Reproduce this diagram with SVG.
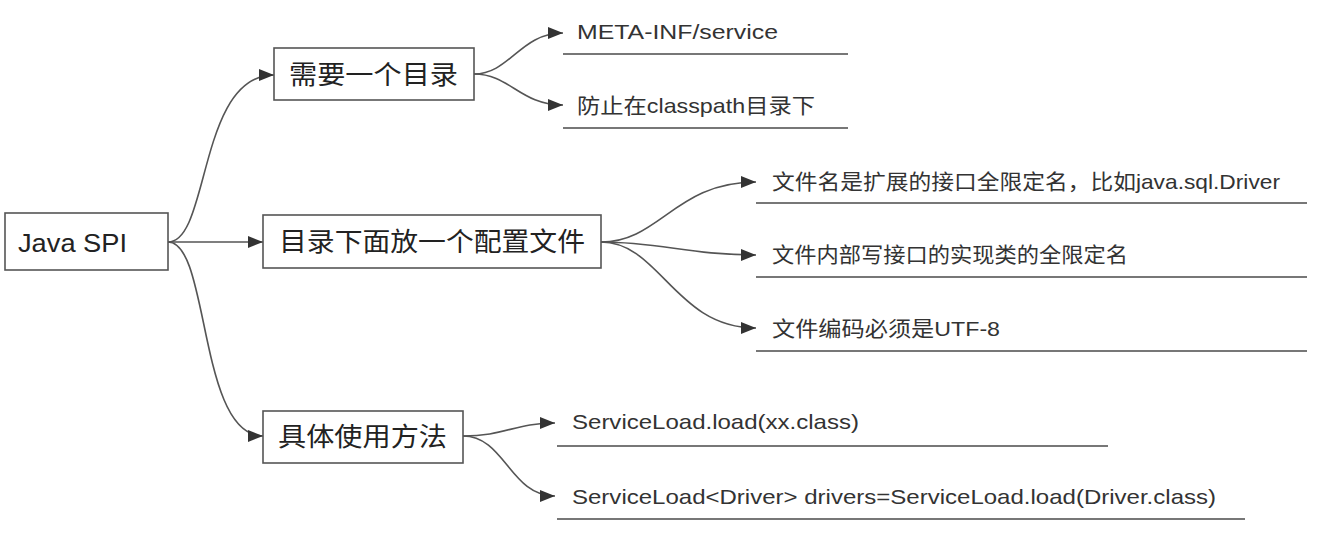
<svg xmlns="http://www.w3.org/2000/svg" width="1333" height="542" viewBox="0 0 1333 542">
<defs>
<marker id="arr" markerUnits="userSpaceOnUse" markerWidth="16" markerHeight="12" refX="15" refY="6" orient="auto">
<path d="M0,0 L15,6 L0,12 Z" fill="#333"/>
</marker>
<style>
.box{fill:#fff;stroke:#555;stroke-width:1.6}
.big{font-family:"Liberation Sans","Noto Sans CJK SC",sans-serif;font-size:26px;fill:#222}
.leaf{font-family:"Liberation Sans","Noto Sans CJK SC",sans-serif;font-size:21px;fill:#333}
.conn{fill:none;stroke:#555;stroke-width:1.6}
.ul{stroke:#777;stroke-width:2}
</style>
</defs>
<rect width="1333" height="542" fill="#fff"/>
<g id="connectors">
<path class="conn" d="M168,242 C210,242 198,75 274,75" marker-end="url(#arr)"/>
<path class="conn" d="M168,242 L263,242" marker-end="url(#arr)"/>
<path class="conn" d="M168,242 C210,242 198,436 263,436" marker-end="url(#arr)"/>
<path class="conn" d="M474,74 C510,74 520,33 563,33" marker-end="url(#arr)"/>
<path class="conn" d="M474,74 C510,74 520,105 563,105" marker-end="url(#arr)"/>
<path class="conn" d="M601,242 C660,242 675,182 756,182" marker-end="url(#arr)"/>
<path class="conn" d="M601,242 C660,242 690,255 756,255" marker-end="url(#arr)"/>
<path class="conn" d="M601,242 C660,242 675,328 756,328" marker-end="url(#arr)"/>
<path class="conn" d="M463,436 C505,436 515,423 555,423" marker-end="url(#arr)"/>
<path class="conn" d="M463,436 C505,436 510,496 555,496" marker-end="url(#arr)"/>
</g>
<g id="root">
<rect class="box" x="5" y="213" width="163" height="57"/>
<text class="big" x="18" y="252" font-size="28" textLength="109" lengthAdjust="spacingAndGlyphs">Java SPI</text>
</g>
<g id="n1">
<rect class="box" x="274" y="48" width="200" height="52"/>
<text class="big" x="289" y="84" textLength="169" lengthAdjust="spacingAndGlyphs">需要一个目录</text>
</g>
<g id="n2">
<rect class="box" x="263" y="215" width="338" height="53"/>
<text class="big" x="279" y="251" textLength="306" lengthAdjust="spacingAndGlyphs">目录下面放一个配置文件</text>
</g>
<g id="n3">
<rect class="box" x="263" y="411" width="200" height="52"/>
<text class="big" x="278" y="446" textLength="169" lengthAdjust="spacingAndGlyphs">具体使用方法</text>
</g>
<g id="leaf1">
<text class="leaf" x="577" y="39" textLength="201" lengthAdjust="spacingAndGlyphs">META-INF/service</text>
<line class="ul" x1="563" y1="54" x2="848" y2="54"/>
</g>
<g id="leaf2">
<text class="leaf" x="577" y="113" textLength="238" lengthAdjust="spacingAndGlyphs">防止在classpath目录下</text>
<line class="ul" x1="563" y1="128" x2="848" y2="128"/>
</g>
<g id="leaf3">
<text class="leaf" x="772" y="189" textLength="508" lengthAdjust="spacingAndGlyphs">文件名是扩展的接口全限定名，比如java.sql.Driver</text>
<line class="ul" x1="756" y1="203" x2="1307" y2="203"/>
</g>
<g id="leaf4">
<text class="leaf" x="772" y="262" textLength="356" lengthAdjust="spacingAndGlyphs">文件内部写接口的实现类的全限定名</text>
<line class="ul" x1="756" y1="277" x2="1307" y2="277"/>
</g>
<g id="leaf5">
<text class="leaf" x="772" y="336" textLength="228" lengthAdjust="spacingAndGlyphs">文件编码必须是UTF-8</text>
<line class="ul" x1="756" y1="351" x2="1307" y2="351"/>
</g>
<g id="leaf6">
<text class="leaf" x="572" y="429" textLength="287" lengthAdjust="spacingAndGlyphs">ServiceLoad.load(xx.class)</text>
<line class="ul" x1="557" y1="446" x2="1108" y2="446"/>
</g>
<g id="leaf7">
<text class="leaf" x="572" y="504" textLength="644" lengthAdjust="spacingAndGlyphs">ServiceLoad&lt;Driver&gt; drivers=ServiceLoad.load(Driver.class)</text>
<line class="ul" x1="557" y1="519" x2="1245" y2="519"/>
</g>
</svg>
